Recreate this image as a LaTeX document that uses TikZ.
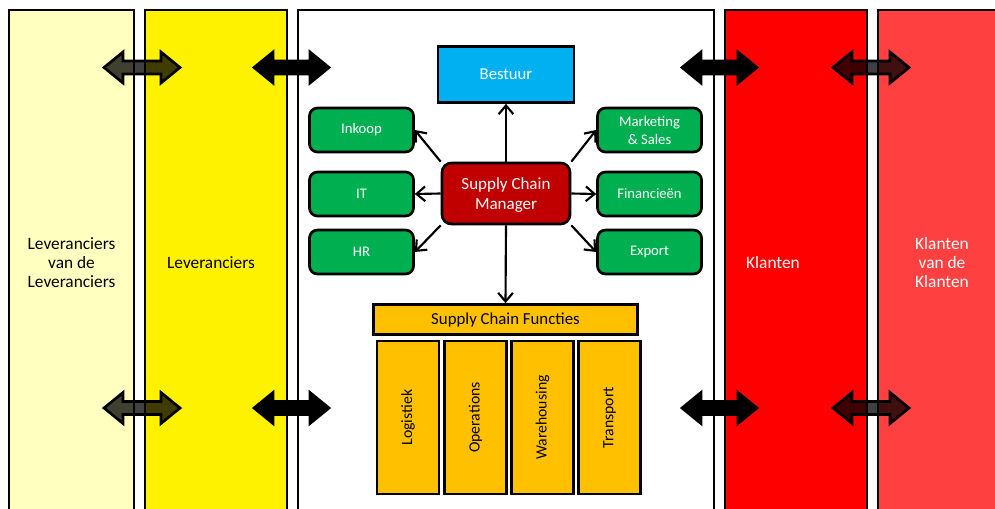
\documentclass[tikz,border=0pt]{standalone}
\usepackage{fontspec}
\setmainfont{Carlito}
\usetikzlibrary{arrows.meta}
\definecolor{paleyel}{RGB}{255,255,192}
\definecolor{lightred}{RGB}{255,64,64}
\definecolor{bestblue}{RGB}{0,176,240}
\definecolor{okgreen}{RGB}{0,176,80}
\definecolor{scmred}{RGB}{192,0,0}
\definecolor{amber}{RGB}{255,192,0}
\newcommand\dblarrow[4]{%
  \draw[line width=2pt,line join=miter,#4] (#1,#3) -- ++(19,-15.5) -- ++(0,9) -- (#2-19,#3-6.5) -- ++(0,-9) -- (#2,#3) -- ++(-19,15.5) -- ++(0,-9) -- (#1+19,#3+6.5) -- ++(0,9) -- cycle;}
\begin{document}
\begin{tikzpicture}[x=0.75pt,y=-0.75pt,
  panel/.style={draw=black,line width=2.2pt},
  plabel/.style={align=center,font=\fontsize{13}{14.25}\selectfont,inner sep=0pt},
  dept/.style={draw=black,line width=2pt,fill=okgreen,rounded corners=6pt,text=white,
    font=\fontsize{11}{13.5}\selectfont,minimum width=104*0.75pt,minimum height=44*0.75pt,
    align=center,inner sep=0pt},
  func/.style={draw=black,line width=2pt,fill=amber,minimum width=62*0.75pt,
    minimum height=153*0.75pt,inner sep=0pt},
  conn/.style={line width=1.6pt,-{Straight Barb[length=6.5pt,width=11pt,line width=1.6pt]}}
]
\clip (0,0) rectangle (995,508);
\fill[white] (0,0) rectangle (995,508);
% panels
\draw[panel,fill=paleyel] (9,10) rectangle (134,520);
\draw[panel,fill=yellow] (145,10) rectangle (287,520);
\draw[panel,fill=white] (298,10) rectangle (714,520);
\draw[panel,fill=red] (725,10) rectangle (867,520);
\draw[panel,fill=lightred] (878,10) rectangle (1010,520);
% panel labels
\node[plabel] (lvl) at (71.5,263) {Leveranciers\\van de\\Leveranciers};
\node[plabel] (lev) at (211,263) {Leveranciers};
\node[plabel,text=white] (kl) at (773,263) {Klanten};
\node[plabel,text=white] (klk) at (942,263) {Klanten\\van de\\Klanten};
% double arrows
\dblarrow{104}{180}{67.5}{fill=black,fill opacity=0.75}
\dblarrow{104}{180}{408}{fill=black,fill opacity=0.75}
\dblarrow{254}{329}{67.5}{fill=black}
\dblarrow{254}{329}{408}{fill=black}
\dblarrow{682}{757}{67.5}{fill=black}
\dblarrow{682}{757}{408}{fill=black}
\dblarrow{833}{909}{67.5}{fill=black,fill opacity=0.75}
\dblarrow{833}{909}{408}{fill=black,fill opacity=0.75}
% central nodes
\node[draw=black,line width=2pt,fill=bestblue,text=white,font=\fontsize{12.5}{14}\selectfont,
  minimum width=136*0.75pt,minimum height=56*0.75pt,inner sep=0pt] (best) at (506,74.5) {Bestuur};
\node[draw=black,line width=2pt,fill=scmred,text=white,rounded corners=7pt,align=center,
  font=\fontsize{12.75}{15}\selectfont,minimum width=128*0.75pt,minimum height=61*0.75pt,
  inner sep=0pt] (scm) at (506,193.5) {\rule{0pt}{11pt}Supply Chain\\Manager};
\node[dept] (ink) at (361.5,130) {Inkoop};
\node[dept] (it) at (361.5,194) {IT};
\node[dept] (hr) at (361.5,252) {HR};
\node[dept] (mkt) at (649.5,130) {Marketing\\\& Sales};
\node[dept] (fin) at (649.5,194) {Financieën};
\node[dept] (exp) at (649.5,252) {Export};
\node[draw=black,line width=2pt,fill=amber,font=\fontsize{12.6}{14}\selectfont,
  minimum width=264*0.75pt,minimum height=30*0.75pt,inner sep=0pt] (scf) at (505.5,319.5) {\rule{0pt}{10pt}Supply Chain Functies};
\node[func] (log) at (408,417.5) {\rotatebox{90}{\fontsize{11.8}{13}\selectfont Logistiek}};
\node[func] (ops) at (475.5,417.5) {\rotatebox{90}{\fontsize{11.8}{13}\selectfont Operations}};
\node[func] (wh) at (542.5,417.5) {\rotatebox{90}{\fontsize{11.8}{13}\selectfont Warehousing}};
\node[func] (tr) at (609.5,417.5) {\rotatebox{90}{\fontsize{11.8}{13}\selectfont Transport}};
% connectors
\draw[conn] (scm.north) -- (best.south);
\draw[conn] (scm.south) -- (scf.north);
\draw[conn] (scm.north west) -- (ink.east);
\draw[conn] (scm.west) -- (it.east);
\draw[conn] (scm.south west) -- (hr.east);
\draw[conn] (scm.north east) -- (mkt.west);
\draw[conn] (scm.east) -- (fin.west);
\draw[conn] (scm.south east) -- (exp.west);
\end{tikzpicture}
\end{document}
